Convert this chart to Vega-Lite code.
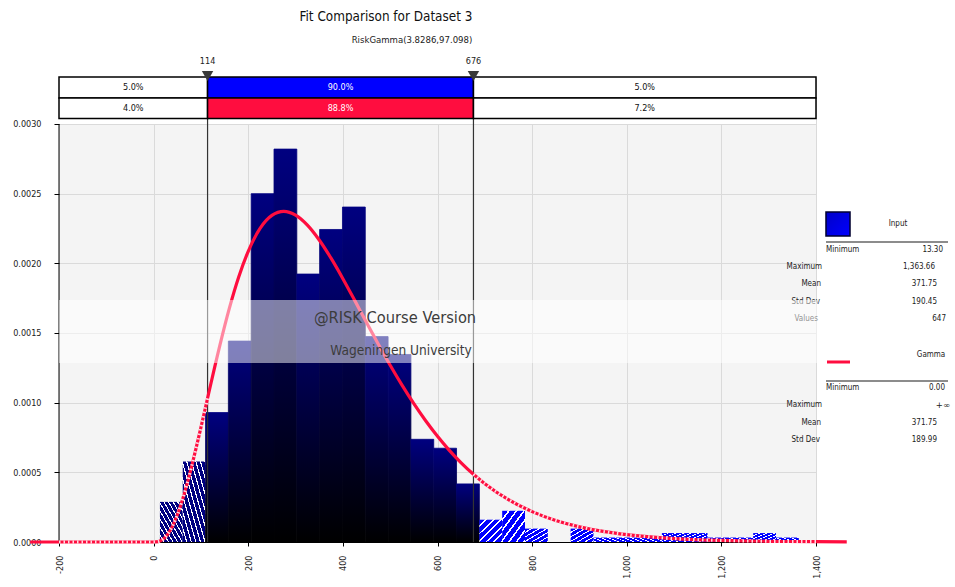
{
  "$schema": "https://vega.github.io/schema/vega-lite/v6.json",
  "width": 757,
  "height": 465,
  "autosize": {"type": "none"},
  "padding": {"left": 59, "top": 77, "right": 139, "bottom": 45},
  "background": "white",
  "config": {
    "view": {"fill": "#f4f4f4", "stroke": null},
    "font": "DejaVu Sans Condensed, DejaVu Sans",
    "axis": {"labelFont": "DejaVu Sans Condensed, DejaVu Sans", "labelFontSize": 9, "labelColor": "#222", "gridColor": "#dadada", "gridWidth": 1, "tickColor": "#000", "domainColor": "#000"}
  },
  "datasets": {
    "hist": [
      {"lo": 13.30, "hi": 61.53, "density": 0.000288, "zone": "low"},
      {"lo": 61.53, "hi": 109.75, "density": 0.000577, "zone": "low"},
      {"lo": 109.75, "hi": 157.98, "density": 0.000929, "zone": "mid"},
      {"lo": 157.98, "hi": 206.21, "density": 0.001442, "zone": "mid"},
      {"lo": 206.21, "hi": 254.44, "density": 0.002500, "zone": "mid"},
      {"lo": 254.44, "hi": 302.66, "density": 0.002820, "zone": "mid"},
      {"lo": 302.66, "hi": 350.89, "density": 0.001923, "zone": "mid"},
      {"lo": 350.89, "hi": 399.12, "density": 0.002243, "zone": "mid"},
      {"lo": 399.12, "hi": 447.34, "density": 0.002404, "zone": "mid"},
      {"lo": 447.34, "hi": 495.57, "density": 0.001474, "zone": "mid"},
      {"lo": 495.57, "hi": 543.80, "density": 0.001346, "zone": "mid"},
      {"lo": 543.80, "hi": 592.02, "density": 0.000737, "zone": "mid"},
      {"lo": 592.02, "hi": 640.25, "density": 0.000673, "zone": "mid"},
      {"lo": 640.25, "hi": 688.48, "density": 0.000417, "zone": "mid"},
      {"lo": 688.48, "hi": 736.71, "density": 0.000160, "zone": "high"},
      {"lo": 736.71, "hi": 784.93, "density": 0.000224, "zone": "high"},
      {"lo": 784.93, "hi": 833.16, "density": 0.0000961, "zone": "high"},
      {"lo": 833.16, "hi": 881.39, "density": 0, "zone": "high"},
      {"lo": 881.39, "hi": 929.61, "density": 0.0000961, "zone": "high"},
      {"lo": 929.61, "hi": 977.84, "density": 0.0000320, "zone": "high"},
      {"lo": 977.84, "hi": 1026.07, "density": 0.0000320, "zone": "high"},
      {"lo": 1026.07, "hi": 1074.29, "density": 0.0000320, "zone": "high"},
      {"lo": 1074.29, "hi": 1122.52, "density": 0.0000641, "zone": "high"},
      {"lo": 1122.52, "hi": 1170.75, "density": 0.0000641, "zone": "high"},
      {"lo": 1170.75, "hi": 1218.98, "density": 0.0000320, "zone": "high"},
      {"lo": 1218.98, "hi": 1267.20, "density": 0.0000320, "zone": "high"},
      {"lo": 1267.20, "hi": 1315.43, "density": 0.0000641, "zone": "high"},
      {"lo": 1315.43, "hi": 1363.66, "density": 0.0000320, "zone": "high"}
    ],
    "curve": [
      {"value": -261, "density": 0},
      {"value": -200, "density": 0},
      {"value": 0, "density": 0},
      {"value": 10, "density": 0.0000031},
      {"value": 20, "density": 0.0000198},
      {"value": 30, "density": 0.0000561},
      {"value": 40, "density": 0.0001142},
      {"value": 50, "density": 0.0001937},
      {"value": 60, "density": 0.0002926},
      {"value": 70, "density": 0.0004085},
      {"value": 80, "density": 0.0005376},
      {"value": 90, "density": 0.0006768},
      {"value": 100, "density": 0.0008226},
      {"value": 114, "density": 0.0010317},
      {"value": 120, "density": 0.0011214},
      {"value": 140, "density": 0.0014113},
      {"value": 160, "density": 0.0016764},
      {"value": 180, "density": 0.0019034},
      {"value": 200, "density": 0.0020867},
      {"value": 225, "density": 0.0022508},
      {"value": 250, "density": 0.0023440},
      {"value": 275, "density": 0.0023726},
      {"value": 300, "density": 0.0023458},
      {"value": 325, "density": 0.0022741},
      {"value": 350, "density": 0.0021678},
      {"value": 375, "density": 0.0020368},
      {"value": 400, "density": 0.0018898},
      {"value": 425, "density": 0.0017341},
      {"value": 450, "density": 0.0015757},
      {"value": 475, "density": 0.0014191},
      {"value": 500, "density": 0.0012682},
      {"value": 525, "density": 0.0011256},
      {"value": 550, "density": 0.0009925},
      {"value": 575, "density": 0.0008700},
      {"value": 600, "density": 0.0007585},
      {"value": 625, "density": 0.0006580},
      {"value": 650, "density": 0.0005684},
      {"value": 676, "density": 0.0004858},
      {"value": 700, "density": 0.0004188},
      {"value": 750, "density": 0.0003042},
      {"value": 800, "density": 0.0002182},
      {"value": 850, "density": 0.0001547},
      {"value": 900, "density": 0.0001087},
      {"value": 950, "density": 0.0000757},
      {"value": 1000, "density": 0.0000523},
      {"value": 1100, "density": 0.0000245},
      {"value": 1200, "density": 0.0000112},
      {"value": 1300, "density": 0.0000050},
      {"value": 1400, "density": 0.0000022},
      {"value": 1465, "density": 0.0000012}
    ],
    "markers": [{"pct": "5%", "value": 114}, {"pct": "95%", "value": 676}]
  },
  "layer": [
    {
      "data": {"values": [{"area": "header"}]},
      "mark": {"type": "rect", "fill": "white"},
      "encoding": {
        "x": {"datum": -200},
        "x2": {"datum": 1400},
        "y": {"datum": 0.003},
        "y2": {"datum": 0.00333732}
      }
    },
    {
      "data": {"name": "hist"},
      "transform": [{"filter": "datum.zone === 'low'"}],
      "mark": {"type": "rect", "fill": {"gradient": "linear", "x1": 0, "y1": 1, "x2": 1, "y2": 0, "stops": [
        {"offset": 0, "color": "#000080"}, {"offset": 0.075, "color": "#000080"}, {"offset": 0.075, "color": "#ffffff"}, {"offset": 0.1, "color": "#ffffff"},
        {"offset": 0.1, "color": "#000080"}, {"offset": 0.175, "color": "#000080"}, {"offset": 0.175, "color": "#ffffff"}, {"offset": 0.2, "color": "#ffffff"},
        {"offset": 0.2, "color": "#000080"}, {"offset": 0.275, "color": "#000080"}, {"offset": 0.275, "color": "#ffffff"}, {"offset": 0.3, "color": "#ffffff"},
        {"offset": 0.3, "color": "#000080"}, {"offset": 0.375, "color": "#000080"}, {"offset": 0.375, "color": "#ffffff"}, {"offset": 0.4, "color": "#ffffff"},
        {"offset": 0.4, "color": "#000080"}, {"offset": 0.475, "color": "#000080"}, {"offset": 0.475, "color": "#ffffff"}, {"offset": 0.5, "color": "#ffffff"},
        {"offset": 0.5, "color": "#000080"}, {"offset": 0.575, "color": "#000080"}, {"offset": 0.575, "color": "#ffffff"}, {"offset": 0.6, "color": "#ffffff"},
        {"offset": 0.6, "color": "#000080"}, {"offset": 0.675, "color": "#000080"}, {"offset": 0.675, "color": "#ffffff"}, {"offset": 0.7, "color": "#ffffff"},
        {"offset": 0.7, "color": "#000080"}, {"offset": 0.775, "color": "#000080"}, {"offset": 0.775, "color": "#ffffff"}, {"offset": 0.8, "color": "#ffffff"},
        {"offset": 0.8, "color": "#000080"}, {"offset": 0.875, "color": "#000080"}, {"offset": 0.875, "color": "#ffffff"}, {"offset": 0.9, "color": "#ffffff"},
        {"offset": 0.9, "color": "#000080"}, {"offset": 0.975, "color": "#000080"}, {"offset": 0.975, "color": "#ffffff"}, {"offset": 1, "color": "#ffffff"}
      ]}},
      "encoding": {
        "x": {"field": "lo", "type": "quantitative", "scale": {"domain": [-200, 1400], "nice": false, "zero": false},
          "axis": {"title": null, "values": [-200, 0, 200, 400, 600, 800, 1000, 1200, 1400], "labelAngle": -90, "labelExpr": "datum.value < 0 ? '-' + format(-datum.value, ',') : format(datum.value, ',')", "tickSize": 4, "labelPadding": 9, "grid": true, "domain": true, "labelFlush": false, "labelOverlap": false, "labelBound": false}},
        "x2": {"field": "hi"},
        "y": {"field": "density", "type": "quantitative", "scale": {"domain": [0, 0.00333732], "nice": false, "zero": false},
          "axis": {"title": null, "values": [0, 0.0005, 0.001, 0.0015, 0.002, 0.0025, 0.003], "format": ".4f", "tickSize": 5, "labelPadding": 13, "domain": false, "grid": true, "labelFlush": false, "labelOverlap": false}},
        "y2": {"datum": 0}
      }
    },
    {
      "data": {"name": "hist"},
      "transform": [{"filter": "datum.zone === 'mid'"}],
      "mark": {"type": "rect",
        "fill": {"gradient": "linear", "x1": 0, "y1": 0, "x2": 0, "y2": 1, "stops": [{"offset": 0, "color": "#000080"}, {"offset": 1, "color": "#000000"}]},
        "stroke": {"gradient": "linear", "x1": 0, "y1": 0, "x2": 0, "y2": 1, "stops": [{"offset": 0, "color": "#000080"}, {"offset": 1, "color": "#000000"}]},
        "strokeWidth": 0.8},
      "encoding": {
        "x": {"field": "lo", "type": "quantitative"},
        "x2": {"field": "hi"},
        "y": {"field": "density", "type": "quantitative"},
        "y2": {"datum": 0}
      }
    },
    {
      "data": {"name": "hist"},
      "transform": [{"filter": "datum.zone === 'high'"}],
      "mark": {"type": "rect", "fill": {"gradient": "linear", "x1": 0, "y1": 0, "x2": 1, "y2": 1, "stops": [
        {"offset": 0, "color": "#0000ff"}, {"offset": 0.125, "color": "#0000ff"}, {"offset": 0.125, "color": "#ffffff"}, {"offset": 0.1667, "color": "#ffffff"},
        {"offset": 0.1667, "color": "#0000ff"}, {"offset": 0.2917, "color": "#0000ff"}, {"offset": 0.2917, "color": "#ffffff"}, {"offset": 0.3333, "color": "#ffffff"},
        {"offset": 0.3333, "color": "#0000ff"}, {"offset": 0.4583, "color": "#0000ff"}, {"offset": 0.4583, "color": "#ffffff"}, {"offset": 0.5, "color": "#ffffff"},
        {"offset": 0.5, "color": "#0000ff"}, {"offset": 0.625, "color": "#0000ff"}, {"offset": 0.625, "color": "#ffffff"}, {"offset": 0.6667, "color": "#ffffff"},
        {"offset": 0.6667, "color": "#0000ff"}, {"offset": 0.7917, "color": "#0000ff"}, {"offset": 0.7917, "color": "#ffffff"}, {"offset": 0.8333, "color": "#ffffff"},
        {"offset": 0.8333, "color": "#0000ff"}, {"offset": 0.9583, "color": "#0000ff"}, {"offset": 0.9583, "color": "#ffffff"}, {"offset": 1, "color": "#ffffff"}
      ]}},
      "encoding": {
        "x": {"field": "lo", "type": "quantitative"},
        "x2": {"field": "hi"},
        "y": {"field": "density", "type": "quantitative"},
        "y2": {"datum": 0}
      }
    },
    {
      "data": {"name": "markers"},
      "mark": {"type": "rule", "color": "#333333", "strokeWidth": 1.2},
      "encoding": {
        "x": {"field": "value", "type": "quantitative"},
        "y": {"datum": 0},
        "y2": {"datum": 0.00333732}
      }
    },
    {
      "data": {"values": [{"edge": "left"}]},
      "mark": {"type": "rule", "color": "#000000", "strokeWidth": 1},
      "encoding": {
        "x": {"datum": -200},
        "y": {"datum": 0},
        "y2": {"datum": 0.003}
      }
    },
    {
      "data": {"name": "curve"},
      "mark": {"type": "line", "color": "#ff0d3f", "strokeWidth": 3.2, "clip": false, "interpolate": "monotone"},
      "encoding": {
        "x": {"field": "value", "type": "quantitative"},
        "y": {"field": "density", "type": "quantitative"}
      }
    },
    {
      "data": {"name": "curve"},
      "transform": [{"filter": "datum.value >= -200 && datum.value <= 114"}],
      "mark": {"type": "line", "color": "#ffffff", "strokeWidth": 3.2, "strokeDash": [1.5, 3], "opacity": 0.85, "interpolate": "monotone"},
      "encoding": {
        "x": {"field": "value", "type": "quantitative"},
        "y": {"field": "density", "type": "quantitative"}
      }
    },
    {
      "data": {"name": "curve"},
      "transform": [{"filter": "datum.value >= 676 && datum.value <= 1400"}],
      "mark": {"type": "line", "color": "#ffffff", "strokeWidth": 3.2, "strokeDash": [1.5, 3], "opacity": 0.85, "interpolate": "monotone"},
      "encoding": {
        "x": {"field": "value", "type": "quantitative"},
        "y": {"field": "density", "type": "quantitative"}
      }
    },
    {
      "data": {"values": [{"stat": "Minimum", "value": "13.30"}]},
      "encoding": {"y": {"datum": 0.0020957}},
      "layer": [
        {"mark": {"type": "text", "align": "left", "fontSize": 8, "color": "#222"}, "encoding": {"x": {"datum": 1421.1}, "text": {"field": "stat", "type": "nominal"}}},
        {"mark": {"type": "text", "align": "right", "fontSize": 8, "color": "#222"}, "encoding": {"x": {"datum": 1668.4}, "text": {"field": "value", "type": "nominal"}}}
      ]
    },
    {
      "data": {"values": [{"stat": "Maximum", "value": "1,363.66"}]},
      "encoding": {"y": {"datum": 0.0019737}},
      "layer": [
        {"mark": {"type": "text", "align": "right", "fontSize": 8, "color": "#222"}, "encoding": {"x": {"datum": 1412.7}, "text": {"field": "stat", "type": "nominal"}}},
        {"mark": {"type": "text", "align": "right", "fontSize": 8, "color": "#222"}, "encoding": {"x": {"datum": 1651.5}, "text": {"field": "value", "type": "nominal"}}}
      ]
    },
    {
      "data": {"values": [{"stat": "Mean", "value": "371.75"}]},
      "encoding": {"y": {"datum": 0.0018517}},
      "layer": [
        {"mark": {"type": "text", "align": "right", "fontSize": 8, "color": "#222"}, "encoding": {"x": {"datum": 1410.6}, "text": {"field": "stat", "type": "nominal"}}},
        {"mark": {"type": "text", "align": "right", "fontSize": 8, "color": "#222"}, "encoding": {"x": {"datum": 1655.7}, "text": {"field": "value", "type": "nominal"}}}
      ]
    },
    {
      "data": {"values": [{"stat": "Std Dev", "value": "190.45"}]},
      "encoding": {"y": {"datum": 0.0017225}},
      "layer": [
        {"mark": {"type": "text", "align": "right", "fontSize": 8, "color": "#222"}, "encoding": {"x": {"datum": 1408.5}, "text": {"field": "stat", "type": "nominal"}}},
        {"mark": {"type": "text", "align": "right", "fontSize": 8, "color": "#222"}, "encoding": {"x": {"datum": 1655.7}, "text": {"field": "value", "type": "nominal"}}}
      ]
    },
    {
      "data": {"values": [{"stat": "Values", "value": "647"}]},
      "encoding": {"y": {"datum": 0.0016005}},
      "layer": [
        {"mark": {"type": "text", "align": "right", "fontSize": 8, "color": "#222"}, "encoding": {"x": {"datum": 1404.2}, "text": {"field": "stat", "type": "nominal"}}},
        {"mark": {"type": "text", "align": "right", "fontSize": 8, "color": "#222"}, "encoding": {"x": {"datum": 1674.8}, "text": {"field": "value", "type": "nominal"}}}
      ]
    },
    {
      "data": {"values": [{"stat": "Minimum", "value": "0.00"}]},
      "encoding": {"y": {"datum": 0.0011053}},
      "layer": [
        {"mark": {"type": "text", "align": "left", "fontSize": 8, "color": "#222"}, "encoding": {"x": {"datum": 1421.1}, "text": {"field": "stat", "type": "nominal"}}},
        {"mark": {"type": "text", "align": "right", "fontSize": 8, "color": "#222"}, "encoding": {"x": {"datum": 1672.6}, "text": {"field": "value", "type": "nominal"}}}
      ]
    },
    {
      "data": {"values": [{"stat": "Maximum", "value": "+∞"}]},
      "encoding": {"y": {"datum": 0.0009833}},
      "layer": [
        {"mark": {"type": "text", "align": "right", "fontSize": 8, "color": "#222"}, "encoding": {"x": {"datum": 1412.7}, "text": {"field": "stat", "type": "nominal"}}},
        {"mark": {"type": "text", "align": "right", "fontSize": 8.5, "font": "DejaVu Sans", "color": "#222"}, "encoding": {"x": {"datum": 1683.2}, "text": {"field": "value", "type": "nominal"}}}
      ]
    },
    {
      "data": {"values": [{"stat": "Mean", "value": "371.75"}]},
      "encoding": {"y": {"datum": 0.0008541}},
      "layer": [
        {"mark": {"type": "text", "align": "right", "fontSize": 8, "color": "#222"}, "encoding": {"x": {"datum": 1410.6}, "text": {"field": "stat", "type": "nominal"}}},
        {"mark": {"type": "text", "align": "right", "fontSize": 8, "color": "#222"}, "encoding": {"x": {"datum": 1655.7}, "text": {"field": "value", "type": "nominal"}}}
      ]
    },
    {
      "data": {"values": [{"stat": "Std Dev", "value": "189.99"}]},
      "encoding": {"y": {"datum": 0.0007321}},
      "layer": [
        {"mark": {"type": "text", "align": "right", "fontSize": 8, "color": "#222"}, "encoding": {"x": {"datum": 1408.5}, "text": {"field": "stat", "type": "nominal"}}},
        {"mark": {"type": "text", "align": "right", "fontSize": 8, "color": "#222"}, "encoding": {"x": {"datum": 1655.7}, "text": {"field": "value", "type": "nominal"}}}
      ]
    },
    {
      "data": {"values": [{"series": "Input"}]},
      "mark": {"type": "text", "align": "center", "fontSize": 8, "color": "#222"},
      "encoding": {"x": {"datum": 1573.3}, "y": {"datum": 0.0022823}, "text": {"field": "series", "type": "nominal"}}
    },
    {
      "data": {"values": [{"series": "Gamma"}]},
      "mark": {"type": "text", "align": "center", "fontSize": 8, "color": "#222"},
      "encoding": {"x": {"datum": 1643.1}, "y": {"datum": 0.0013421}, "text": {"field": "series", "type": "nominal"}}
    },
    {
      "data": {"values": [{"series": "Input"}]},
      "mark": {"type": "rect", "stroke": "#000030", "strokeWidth": 1.5, "fill": {"gradient": "linear", "x1": 0, "y1": 0, "x2": 1, "y2": 1, "stops": [{"offset": 0, "color": "#0000c8"}, {"offset": 1, "color": "#0000ff"}]}},
      "encoding": {"x": {"datum": 1421.1}, "x2": {"datum": 1471.9}, "y": {"datum": 0.0021962}, "y2": {"datum": 0.0023684}}
    },
    {
      "data": {"values": [{"series": "Gamma"}]},
      "mark": {"type": "rule", "color": "#ff0d3f", "strokeWidth": 3},
      "encoding": {"x": {"datum": 1423.2}, "x2": {"datum": 1471.9}, "y": {"datum": 0.0012919}}
    },
    {
      "data": {"values": [{"series": "Input"}]},
      "mark": {"type": "rule", "color": "#666666", "strokeWidth": 1.5},
      "encoding": {"x": {"datum": 1421.1}, "x2": {"datum": 1679.0}, "y": {"datum": 0.0021531}}
    },
    {
      "data": {"values": [{"series": "Gamma"}]},
      "mark": {"type": "rule", "color": "#666666", "strokeWidth": 1.5},
      "encoding": {"x": {"datum": 1421.1}, "x2": {"datum": 1679.0}, "y": {"datum": 0.0011555}}
    },
    {
      "data": {"values": [{"note": "watermark band"}]},
      "mark": {"type": "rect", "fill": "white", "opacity": 0.5},
      "encoding": {"x": {"datum": -200}, "x2": {"datum": 1405}, "y": {"datum": 0.0012847}, "y2": {"datum": 0.0017368}}
    },
    {
      "data": {"values": [{"line": "@RISK Course Version"}]},
      "mark": {"type": "text", "align": "center", "fontSize": 16.3, "font": "DejaVu Sans Condensed, DejaVu Sans", "color": "#3c3c3c"},
      "encoding": {"x": {"datum": 510.2}, "y": {"datum": 0.0016076}, "text": {"field": "line", "type": "nominal"}}
    },
    {
      "data": {"values": [{"line": "Wageningen University"}]},
      "mark": {"type": "text", "align": "center", "fontSize": 13.6, "font": "DejaVu Sans Condensed, DejaVu Sans", "color": "#3c3c3c"},
      "encoding": {"x": {"datum": 522.9}, "y": {"datum": 0.0013708}, "text": {"field": "line", "type": "nominal"}}
    },
    {
      "data": {"values": [
        {"series": "Input", "side": "lower", "lo": -200, "hi": 114, "pct": "5.0%"},
        {"series": "Input", "side": "middle", "lo": 114, "hi": 676, "pct": "90.0%"},
        {"series": "Input", "side": "upper", "lo": 676, "hi": 1400, "pct": "5.0%"}
      ]},
      "layer": [
        {
          "mark": {"type": "rect", "stroke": "#000000", "strokeWidth": 1.5},
          "encoding": {
            "x": {"field": "lo", "type": "quantitative"}, "x2": {"field": "hi"},
            "y": {"datum": 0.0031866}, "y2": {"datum": 0.00333732},
            "fill": {"condition": {"test": "datum.side === 'middle'", "value": "#0000ff"}, "value": "#ffffff"}
          }
        },
        {
          "transform": [{"fold": ["lo", "hi"], "as": ["edge", "pos"]}],
          "mark": {"type": "text", "fontSize": 9},
          "encoding": {
            "x": {"aggregate": "mean", "field": "pos", "type": "quantitative"},
            "y": {"datum": 0.003262},
            "detail": {"field": "side", "type": "nominal"},
            "text": {"field": "pct", "type": "nominal"},
            "color": {"condition": {"test": "datum.side === 'middle'", "value": "#ffffff"}, "value": "#111111"}
          }
        }
      ]
    },
    {
      "data": {"values": [
        {"series": "Gamma", "side": "lower", "lo": -200, "hi": 114, "pct": "4.0%"},
        {"series": "Gamma", "side": "middle", "lo": 114, "hi": 676, "pct": "88.8%"},
        {"series": "Gamma", "side": "upper", "lo": 676, "hi": 1400, "pct": "7.2%"}
      ]},
      "layer": [
        {
          "mark": {"type": "rect", "stroke": "#000000", "strokeWidth": 1.5},
          "encoding": {
            "x": {"field": "lo", "type": "quantitative"}, "x2": {"field": "hi"},
            "y": {"datum": 0.0030395}, "y2": {"datum": 0.0031866},
            "fill": {"condition": {"test": "datum.side === 'middle'", "value": "#ff0d3f"}, "value": "#ffffff"}
          }
        },
        {
          "transform": [{"fold": ["lo", "hi"], "as": ["edge", "pos"]}],
          "mark": {"type": "text", "fontSize": 9},
          "encoding": {
            "x": {"aggregate": "mean", "field": "pos", "type": "quantitative"},
            "y": {"datum": 0.0031148},
            "detail": {"field": "side", "type": "nominal"},
            "text": {"field": "pct", "type": "nominal"},
            "color": {"condition": {"test": "datum.side === 'middle'", "value": "#ffffff"}, "value": "#111111"}
          }
        }
      ]
    },
    {
      "data": {"name": "markers"},
      "mark": {"type": "point", "shape": "triangle-down", "filled": true, "color": "#3a3a3a", "size": 130, "opacity": 1},
      "encoding": {"x": {"field": "value", "type": "quantitative"}, "y": {"datum": 0.0033445}}
    },
    {
      "data": {"name": "markers"},
      "mark": {"type": "text", "fontSize": 9, "color": "#222"},
      "encoding": {"x": {"field": "value", "type": "quantitative"}, "y": {"datum": 0.0034522}, "text": {"field": "value", "type": "quantitative", "format": "d"}}
    },
    {
      "data": {"values": [{"line": "Fit Comparison for Dataset 3"}]},
      "mark": {"type": "text", "align": "center", "fontSize": 13.4, "color": "#111"},
      "encoding": {"x": {"datum": 491.1}, "y": {"datum": 0.0037679}, "text": {"field": "line", "type": "nominal"}}
    },
    {
      "data": {"values": [{"line": "RiskGamma(3.8286,97.098)"}]},
      "mark": {"type": "text", "align": "center", "fontSize": 9.5, "color": "#222"},
      "encoding": {"x": {"datum": 546.1}, "y": {"datum": 0.0036029}, "text": {"field": "line", "type": "nominal"}}
    }
  ]
}
